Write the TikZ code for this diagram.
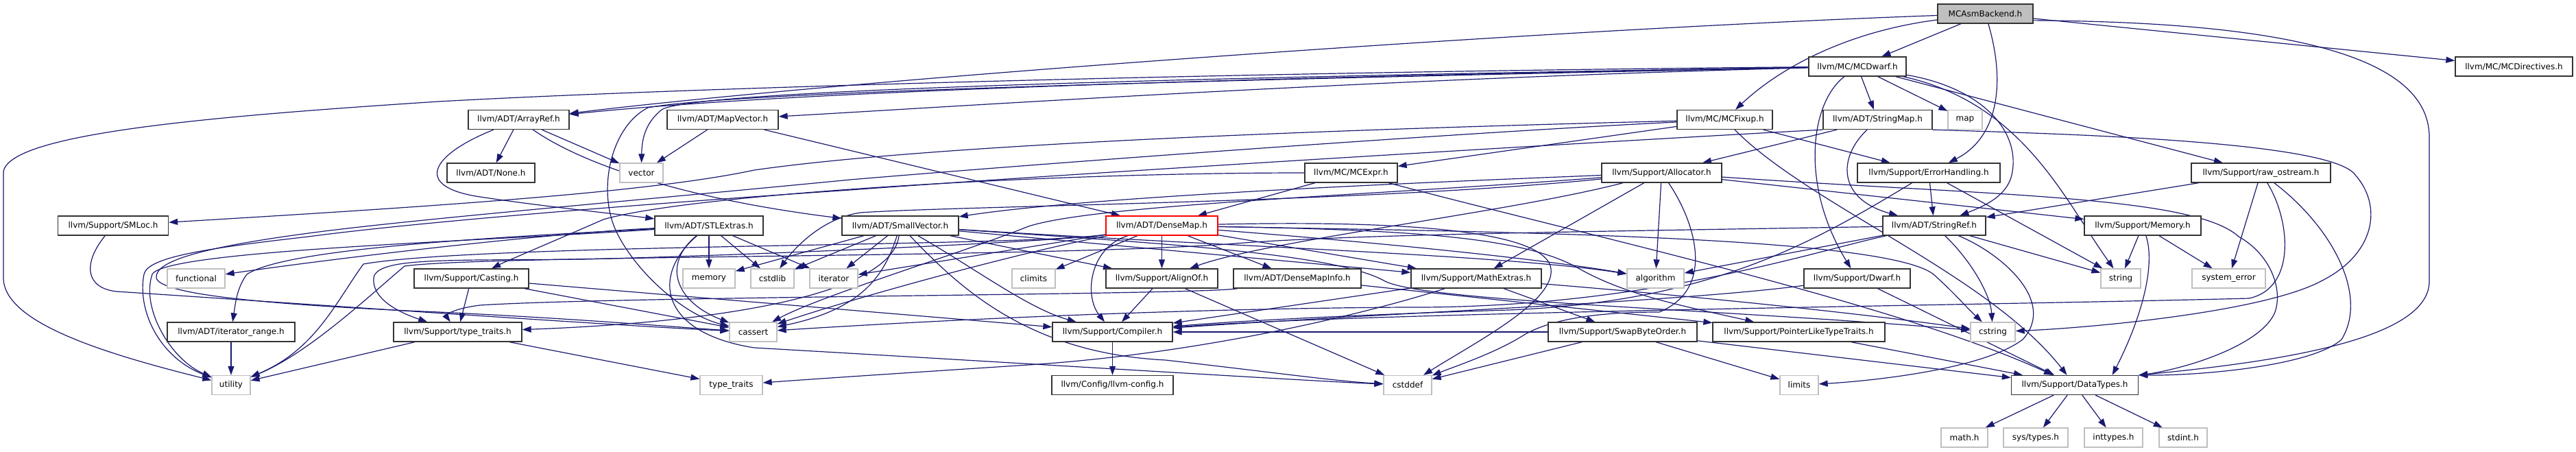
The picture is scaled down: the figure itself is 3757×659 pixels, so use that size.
\documentclass[tikz,border=0pt]{standalone}
\usepackage{fontspec}
\newfontfamily\dv{DejaVu Sans}
\usetikzlibrary{arrows.meta,backgrounds}
\definecolor{edgec}{HTML}{191970}
\definecolor{nbord}{HTML}{333333}
\definecolor{gbord}{HTML}{BFBFBF}
\definecolor{afill}{HTML}{BFBFBF}
\begin{document}
\begin{tikzpicture}[x=1bp,y=-1bp,
  nb/.style={draw=nbord, fill=white, line width=1.3bp, minimum height=28bp, inner sep=0pt, text=black, font=\dv\fontsize{12bp}{14bp}\selectfont},
  ns/.style={nb, draw=gbord},
  edge/.style={draw=edgec, line width=1.2bp, -{Triangle[length=13bp,width=9bp]}}]
\useasboundingbox (0,0) rectangle (3757,659);
% row 0
\node[nb, fill=afill, minimum width=139bp] (ab) at (2895.5,20) {MCAsmBackend.h};
% row 1
\node[nb, minimum width=142bp] (dwarf) at (2709,97) {llvm/MC/MCDwarf.h};
\node[nb, minimum width=171bp] (directives) at (3666.5,97) {llvm/MC/MCDirectives.h};
% row 2
\node[nb, minimum width=147bp] (arrayref) at (756.5,174.5) {llvm/ADT/ArrayRef.h};
\node[nb, minimum width=162bp] (mapvector) at (1054,174.5) {llvm/ADT/MapVector.h};
\node[nb, minimum width=139bp] (fixup) at (2515.5,174.5) {llvm/MC/MCFixup.h};
\node[nb, minimum width=159bp] (stringmap) at (2738.5,174.5) {llvm/ADT/StringMap.h};
\node[ns, minimum width=50bp] (map) at (2866,174.5) {map};
% row 3
\node[nb, minimum width=128bp] (none) at (716,252) {llvm/ADT/None.h};
\node[ns, minimum width=63bp] (vector) at (935.5,252) {vector};
\node[nb, minimum width=135bp] (mcexpr) at (1970.5,252) {llvm/MC/MCExpr.h};
\node[nb, minimum width=175bp] (allocator) at (2423.5,252) {llvm/Support/Allocator.h};
\node[nb, minimum width=208bp] (errorh) at (2813,252) {llvm/Support/ErrorHandling.h};
\node[nb, minimum width=203bp] (rawos) at (3297.5,252) {llvm/Support/raw\_ostream.h};
% row 4
\node[nb, minimum width=161bp] (smloc) at (165,329) {llvm/Support/SMLoc.h};
\node[nb, minimum width=158bp] (stlextras) at (1034,329) {llvm/ADT/STLExtras.h};
\node[nb, minimum width=170bp] (smallvector) at (1313,329) {llvm/ADT/SmallVector.h};
\node[nb, draw=red, minimum width=163bp] (densemap) at (1694.5,329) {llvm/ADT/DenseMap.h};
\node[nb, minimum width=150bp] (stringref) at (2821,329) {llvm/ADT/StringRef.h};
\node[nb, minimum width=170bp] (memory) at (3125,329) {llvm/Support/Memory.h};
% row 5
\node[ns, minimum width=84bp] (functional) at (286,406) {functional};
\node[nb, minimum width=167bp] (casting) at (687.5,406) {llvm/Support/Casting.h};
\node[ns, minimum width=76bp] (memstd) at (1034,406) {memory};
\node[ns, minimum width=63bp] (cstdlib) at (1126.5,406) {cstdlib};
\node[ns, minimum width=70bp] (iterator) at (1216,406) {iterator};
\node[ns, minimum width=63bp] (climits) at (1507.5,406) {climits};
\node[nb, minimum width=163bp] (alignof) at (1694.5,406) {llvm/Support/AlignOf.h};
\node[nb, minimum width=186bp] (densemapinfo) at (1892,406) {llvm/ADT/DenseMapInfo.h};
\node[nb, minimum width=190bp] (mathextras) at (2153,406) {llvm/Support/MathExtras.h};
\node[ns, minimum width=83bp] (algorithm) at (2414.5,406) {algorithm};
\node[nb, minimum width=155bp] (dwarfh) at (2708.5,406) {llvm/Support/Dwarf.h};
\node[ns, minimum width=58bp] (string) at (3093,406) {string};
\node[ns, minimum width=107bp] (syserr) at (3250.5,406) {system\_error};
% row 6
\node[nb, minimum width=186bp] (iterrange) at (337,484) {llvm/ADT/iterator\_range.h};
\node[nb, minimum width=187bp] (typetraitsh) at (667.5,484) {llvm/Support/type\_traits.h};
\node[ns, minimum width=69bp] (cassert) at (1098.5,484) {cassert};
\node[nb, minimum width=175bp] (compiler) at (1622.5,484) {llvm/Support/Compiler.h};
\node[nb, minimum width=217bp] (swapbo) at (2366.5,484) {llvm/Support/SwapByteOrder.h};
\node[nb, minimum width=251bp] (ptrlike) at (2623.5,484) {llvm/Support/PointerLikeTypeTraits.h};
\node[ns, minimum width=65bp] (cstring) at (2906.5,484) {cstring};
% row 7
\node[ns, minimum width=56bp] (utility) at (337,561.5) {utility};
\node[ns, minimum width=91bp] (typetraits) at (1066.5,561.5) {type\_traits};
\node[nb, minimum width=177bp] (llvmconfig) at (1622.5,561.5) {llvm/Config/llvm-config.h};
\node[ns, minimum width=70bp] (cstddef) at (2053,561.5) {cstddef};
\node[ns, minimum width=56bp] (limits) at (2624,561.5) {limits};
\node[nb, minimum width=185bp] (datatypes) at (3026,561.5) {llvm/Support/DataTypes.h};
% row 8
\node[ns, minimum width=68bp] (mathh) at (2865,638) {math.h};
\node[ns, minimum width=94bp] (systypes) at (2969,638) {sys/types.h};
\node[ns, minimum width=85bp] (inttypes) at (3082.5,638) {inttypes.h};
\node[ns, minimum width=70bp] (stdint) at (3184,638) {stdint.h};

\begin{scope}[on background layer]
% MCAsmBackend.h
\draw[edge] (ab) -- (dwarf);
\draw[edge] (ab) -- (directives);
\draw[edge] (ab.-8) .. controls (3330,32) and (3543,80) .. (3543,200) -- (3543,410) .. controls (3543,490) and (3350,525) .. (datatypes.north east);
\draw[edge] (ab) .. controls (2700,45) and (2600,95) .. (fixup);
\draw[edge] (ab) .. controls (2925,120) and (2915,200) .. (errorh);
\draw[edge] (ab) .. controls (2200,45) and (1200,120) .. (arrayref);
% MCDwarf.h
\draw[edge] (dwarf) .. controls (2000,110) and (1200,128) .. (arrayref);
\draw[edge] (dwarf) .. controls (2000,115) and (1400,155) .. (mapvector);
\draw[edge] (dwarf) .. controls (1800,112) and (1010,130) .. (965,160) .. controls (940,180) and (936,205) .. (vector);
\draw[edge] (dwarf) .. controls (1800,105) and (1000,128) .. (640,148) .. controls (300,170) and (15,195) .. (5,250) -- (5,405) .. controls (5,470) and (150,515) .. (utility);
\draw[edge] (dwarf) .. controls (1700,118) and (1060,135) .. (945,157) .. controls (890,185) and (870,280) .. (900,340) .. controls (930,400) and (1000,460) .. (cassert);
\draw[edge] (dwarf) -- (stringmap);
\draw[edge] (dwarf) -- (map);
\draw[edge] (dwarf) .. controls (2890,128) and (2945,190) .. (2935,250) .. controls (2930,285) and (2895,300) .. (stringref);
\draw[edge] (dwarf) .. controls (2950,150) and (3010,290) .. (string);
\draw[edge] (dwarf) -- (rawos);
\draw[edge] (dwarf) .. controls (2640,150) and (2625,270) .. (dwarfh);
% ArrayRef.h
\draw[edge] (arrayref) -- (none);
\draw[edge] (arrayref) -- (vector);
\draw[edge] (arrayref) .. controls (630,225) and (600,272) .. (700,287) .. controls (800,302) and (900,312) .. (stlextras);
\draw[edge] (arrayref) .. controls (850,240) and (1000,290) .. (smallvector);
% MapVector.h
\draw[edge] (mapvector) -- (vector);
\draw[edge] (mapvector) -- (densemap);
% MCFixup.h
\draw[edge] (fixup) -- (errorh);
\draw[edge] (fixup) -- (mcexpr);
\draw[edge] (fixup) .. controls (2100,185) and (1400,205) .. (1100,248) .. controls (950,280) and (650,300) .. (smloc);
\draw[edge] (fixup) .. controls (2640,300) and (2900,400) .. (datatypes);
\draw[edge] (fixup) .. controls (2100,195) and (1500,240) .. (1240,262) .. controls (900,295) and (600,320) .. (450,340) .. controls (300,360) and (225,380) .. (228,405) .. controls (232,430) and (400,445) .. (640,455) .. controls (850,465) and (1000,478) .. (cassert);
% StringMap.h
\draw[edge] (stringmap) -- (allocator);
\draw[edge] (stringmap) .. controls (2680,230) and (2680,290) .. (stringref);
\draw[edge] (stringmap.south east) .. controls (3000,195) and (3400,205) .. (3435,255) .. controls (3475,300) and (3465,370) .. (3385,410) .. controls (3300,455) and (3050,478) .. (cstring);
\draw[edge] (stringmap.south west) .. controls (2450,200) and (1600,250) .. (1240,277) .. controls (900,300) and (600,325) .. (450,345) .. controls (300,362) and (215,375) .. (210,400) .. controls (200,450) and (230,520) .. (utility);
% MCExpr.h
\draw[edge] (mcexpr) -- (densemap);
\draw[edge] (mcexpr) .. controls (1500,252) and (1000,285) .. (880,320) .. controls (800,355) and (740,380) .. (casting);
\draw[edge] (mcexpr) .. controls (2300,340) and (2760,440) .. (datatypes);
% Allocator.h
\draw[edge] (allocator) .. controls (2100,265) and (1600,285) .. (smallvector);
\draw[edge] (allocator) .. controls (2200,310) and (1850,350) .. (alignof);
\draw[edge] (allocator) .. controls (2900,285) and (3200,285) .. (3265,345) .. controls (3310,370) and (3330,420) .. (3318,455) .. controls (3300,500) and (3200,535) .. (datatypes);
\draw[edge] (allocator) -- (mathextras);
\draw[edge] (allocator) -- (memory);
\draw[edge] (allocator) -- (algorithm);
\draw[edge] (allocator) .. controls (2000,285) and (1600,298) .. (1500,330) .. controls (1400,370) and (1200,430) .. (cassert);
\draw[edge] (allocator) .. controls (2470,320) and (2505,420) .. (2420,455) .. controls (2330,455) and (2260,465) .. (2220,490) .. controls (2180,515) and (2120,535) .. (cstddef);
\draw[edge] (allocator) .. controls (2000,295) and (1400,300) .. (1255,310) .. controls (1200,318) and (1160,360) .. (cstdlib);
% ErrorHandling.h
\draw[edge] (errorh) -- (stringref);
\draw[edge] (errorh) .. controls (2650,350) and (2500,440) .. (2200,452) .. controls (2000,458) and (1800,468) .. (compiler);
\draw[edge] (errorh) -- (string);
% raw_ostream.h
\draw[edge] (rawos) -- (stringref);
\draw[edge] (rawos) -- (syserr);
\draw[edge] (rawos) .. controls (3340,320) and (3350,420) .. (3280,435) .. controls (2900,445) and (2000,455) .. (compiler);
\draw[edge] (rawos) .. controls (3400,330) and (3455,430) .. (3415,495) .. controls (3370,535) and (3200,548) .. (datatypes.north east);
% Memory.h
\draw[edge] (memory) -- (string);
\draw[edge] (memory) -- (syserr);
\draw[edge] (memory) .. controls (3145,390) and (3120,470) .. (datatypes.15);
% SMLoc.h
\draw[edge] (smloc) .. controls (120,385) and (125,420) .. (170,425) .. controls (400,440) and (900,475) .. (cassert);
% STLExtras.h
\draw[edge] (stlextras) -- (memstd);
\draw[edge] (stlextras) -- (cstdlib);
\draw[edge] (stlextras) -- (iterator);
\draw[edge] (stlextras) .. controls (800,340) and (500,375) .. (functional);
\draw[edge] (stlextras) .. controls (750,345) and (420,360) .. (360,400) .. controls (345,420) and (343,445) .. (iterrange);
\draw[edge] (stlextras) .. controls (700,352) and (240,365) .. (222,400) .. controls (205,450) and (250,525) .. (utility);
\draw[edge] (stlextras) .. controls (950,400) and (960,485) .. (1100,507) .. controls (1500,530) and (1900,555) .. (cstddef);
\draw[edge] (stlextras) .. controls (965,385) and (985,440) .. (cassert);
% SmallVector.h
\draw[edge] (smallvector) -- (alignof);
\draw[edge] (smallvector) .. controls (1420,390) and (1500,450) .. (compiler);
\draw[edge] (smallvector) -- (mathextras);
\draw[edge] (smallvector) .. controls (1300,430) and (1050,470) .. (typetraitsh);
\draw[edge] (smallvector) .. controls (1800,360) and (2200,372) .. (algorithm);
\draw[edge] (smallvector) .. controls (1290,400) and (1260,450) .. (cassert);
\draw[edge] (smallvector) .. controls (1400,420) and (1500,515) .. (1700,525) .. controls (1850,542) and (1950,556) .. (cstddef);
\draw[edge] (smallvector) -- (cstdlib);
\draw[edge] (smallvector) -- (iterator);
\draw[edge] (smallvector) -- (memstd);
\draw[edge] (smallvector) .. controls (1700,355) and (1950,370) .. (2020,410) .. controls (2080,440) and (2500,450) .. (cstring);
% DenseMap.h
\draw[edge] (densemap) -- (densemapinfo);
\draw[edge] (densemap) -- (alignof);
\draw[edge] (densemap) -- (climits);
\draw[edge] (densemap) .. controls (1590,360) and (1580,430) .. (compiler);
\draw[edge] (densemap) -- (mathextras);
\draw[edge] (densemap) .. controls (2050,335) and (2220,345) .. (2300,390) .. controls (2370,430) and (2450,445) .. (ptrlike);
\draw[edge] (densemap) .. controls (1550,352) and (1100,372) .. (850,378) .. controls (650,380) and (550,375) .. (545,405) .. controls (542,435) and (580,455) .. (typetraitsh);
\draw[edge] (densemap) .. controls (1900,345) and (2200,370) .. (algorithm);
\draw[edge] (densemap) .. controls (1500,365) and (1260,430) .. (cassert);
\draw[edge] (densemap) .. controls (2000,322) and (2255,330) .. (2262,392) .. controls (2268,440) and (2150,500) .. (cstddef);
\draw[edge] (densemap) .. controls (2200,338) and (2750,345) .. (2820,400) .. controls (2848,425) and (2870,450) .. (cstring);
\draw[edge] (densemap) -- (iterator);
\draw[edge] (densemap) .. controls (1500,360) and (700,355) .. (530,385) .. controls (490,440) and (460,510) .. (utility);
% StringRef.h
\draw[edge] (stringref) -- (algorithm);
\draw[edge] (stringref) .. controls (2650,365) and (2400,450) .. (2050,448) .. controls (1700,450) and (1350,468) .. (cassert);
\draw[edge] (stringref) .. controls (2875,380) and (2903,430) .. (cstring);
\draw[edge] (stringref) .. controls (2920,370) and (3000,440) .. (2950,495) .. controls (2890,540) and (2720,556) .. (limits);
\draw[edge] (stringref) -- (string);
\draw[edge] (stringref) .. controls (2300,338) and (1950,342) .. (1790,356) .. controls (1500,376) and (700,372) .. (590,388) .. controls (540,430) and (450,515) .. (utility);
% Casting.h
\draw[edge] (casting) -- (typetraitsh);
\draw[edge] (casting) -- (cassert);
\draw[edge] (casting) -- (compiler);
% AlignOf.h
\draw[edge] (alignof) -- (compiler);
\draw[edge] (alignof) -- (cstddef);
% DenseMapInfo.h
\draw[edge] (densemapinfo) -- (ptrlike);
\draw[edge] (densemapinfo) .. controls (1750,430) and (900,432) .. (700,445) .. controls (660,450) and (650,460) .. (typetraitsh);
% MathExtras.h
\draw[edge] (mathextras) -- (compiler);
\draw[edge] (mathextras) -- (swapbo);
\draw[edge] (mathextras) .. controls (2000,455) and (1760,515) .. (1500,532) .. controls (1300,545) and (1180,553) .. (typetraits);
\draw[edge] (mathextras) .. controls (2450,430) and (2700,455) .. (cstring);
% Dwarf.h
\draw[edge] (dwarfh) -- (datatypes);
\draw[edge] (dwarfh) .. controls (2450,440) and (2050,455) .. (compiler);
% SwapByteOrder.h
\draw[edge] (swapbo) -- (compiler);
\draw[edge] (swapbo) -- (cstddef);
\draw[edge] (swapbo) -- (limits);
\draw[edge] (swapbo) -- (datatypes);
% PointerLikeTypeTraits.h
\draw[edge] (ptrlike) -- (datatypes);
% others
\draw[edge] (iterrange) -- (utility);
\draw[edge] (typetraitsh) -- (utility);
\draw[edge] (typetraitsh) -- (typetraits);
\draw[edge] (compiler) -- (llvmconfig);
\draw[edge] (datatypes) -- (mathh);
\draw[edge] (datatypes) -- (systypes);
\draw[edge] (datatypes) -- (inttypes);
\draw[edge] (datatypes) -- (stdint);
\end{scope}
\end{tikzpicture}
\end{document}
